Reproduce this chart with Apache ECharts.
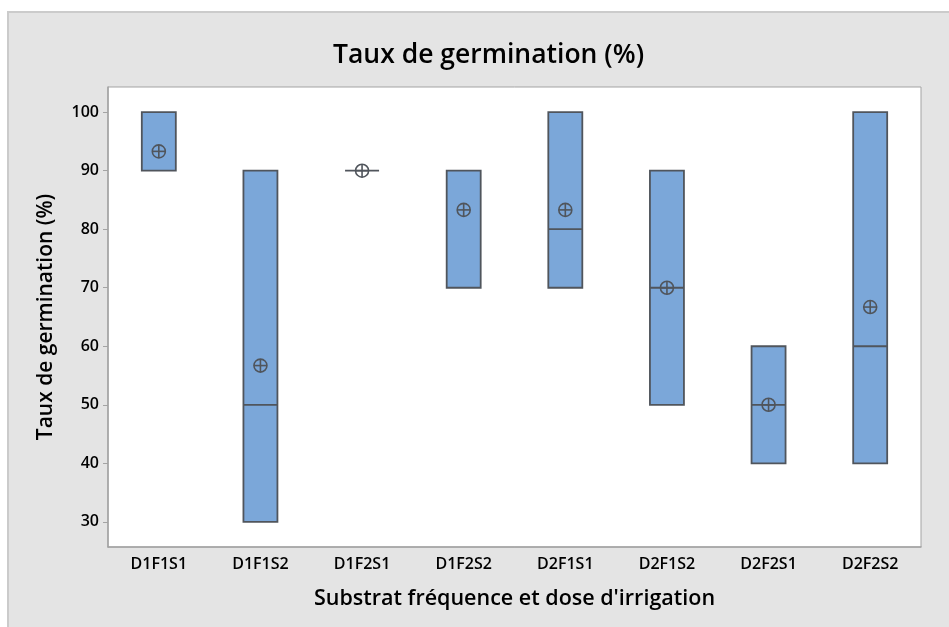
<!DOCTYPE html>
<html lang="fr">
  <head>
    <meta charset="utf-8">
    <title>Taux de germination</title>
    <script src="https://cdn.jsdelivr.net/npm/echarts@6/dist/echarts.min.js"></script>
    <style>
      html, body { margin: 0; padding: 0; background: #ffffff; }
      #chart { width: 949px; height: 627px; }
    </style>
  </head>
  <body>
    <div id="chart"></div>
    <script>
      // categories
      var categories = ['D1F1S1', 'D1F1S2', 'D1F2S1', 'D1F2S2', 'D2F1S1', 'D2F1S2', 'D2F2S1', 'D2F2S2'];
      // [min, Q1, median, Q3, max]
      var boxValues = [
          [90, 90, 90, 100, 100],
          [30, 30, 50, 90, 90],
          [90, 90, 90, 90, 90],
          [70, 70, 90, 90, 90],
          [70, 70, 80, 100, 100],
          [50, 50, 70, 90, 90],
          [40, 40, 50, 60, 60],
          [40, 40, 60, 100, 100]
      ];
      // moyennes
      var meanValues = [93.3, 56.7, 90, 83.3, 83.3, 70, 50, 66.7];
      // graduations
      var yTicks = [30, 40, 50, 60, 70, 80, 90, 100];

      var fontFam = '"Open Sans", "Noto Sans", sans-serif';
      var myChart = echarts.init(document.getElementById('chart'));

      myChart.setOption({
          backgroundColor: '#ffffff',
          animation: false,
          graphic: [{
              type: 'rect',
              z: -10,
              shape: { x: 8, y: 12, width: 960, height: 640 },
              style: { fill: '#e4e4e4', stroke: '#cbcbcb', lineWidth: 2 }
          }],
          title: {
              text: 'Taux de germination (%)',
              left: 328,
              top: 37,
              textStyle: { fontFamily: fontFam, fontSize: 26.5, fontWeight: 600, color: '#000' }
          },
          grid: {
              left: 108, right: 28, top: 87, bottom: 80,
              show: true,
              backgroundColor: '#ffffff',
              borderColor: '#a3a3a3',
              borderWidth: 1
          },
          xAxis: {
              type: 'category',
              data: categories,
              name: "Substrat fréquence et dose d'irrigation",
              nameLocation: 'middle',
              nameGap: 41,
              nameTextStyle: { fontFamily: fontFam, fontSize: 21.5, fontWeight: 600, color: '#000' },
              axisLine: { lineStyle: { color: '#a3a3a3', width: 1.5 } },
              axisTick: { alignWithLabel: true, length: 5, lineStyle: { color: '#a3a3a3' } },
              axisLabel: { margin: 9, fontFamily: fontFam, fontSize: 16, fontWeight: 600, color: '#000' },
              splitLine: { show: false }
          },
          yAxis: {
              type: 'value',
              min: 25.7,
              max: 104.3,
              name: 'Taux de germination (%)',
              nameLocation: 'middle',
              nameGap: 51,
              nameTextStyle: { fontFamily: fontFam, fontSize: 21, fontWeight: 600, color: '#000' },
              axisLine: { show: true, lineStyle: { color: '#a3a3a3', width: 1.5 } },
              axisTick: { show: true, length: 5, customValues: yTicks, lineStyle: { color: '#a3a3a3' } },
              axisLabel: { margin: 9, customValues: yTicks, fontFamily: fontFam, fontSize: 16, fontWeight: 600, color: '#000' },
              splitLine: { show: false }
          },
          series: [{
              type: 'boxplot',
              data: boxValues,
              boxWidth: [34, 34],
              itemStyle: { color: '#7ba7d9', borderColor: '#50555c', borderWidth: 1.8 }
          }, {
              type: 'custom',
              data: meanValues.map(function (v, i) { return [i, v]; }),
              z: 5,
              renderItem: function (params, api) {
                  var p = api.coord([api.value(0), api.value(1)]);
                  var r = 6.5;
                  var st = { stroke: '#50555c', lineWidth: 1.6, fill: null };
                  return {
                      type: 'group',
                      children: [
                          { type: 'circle', shape: { cx: p[0], cy: p[1], r: r }, style: st },
                          { type: 'line', shape: { x1: p[0] - r, y1: p[1], x2: p[0] + r, y2: p[1] }, style: st },
                          { type: 'line', shape: { x1: p[0], y1: p[1] - r, x2: p[0], y2: p[1] + r }, style: st }
                      ]
                  };
              }
          }]
      });
    </script>
  </body>
</html>
